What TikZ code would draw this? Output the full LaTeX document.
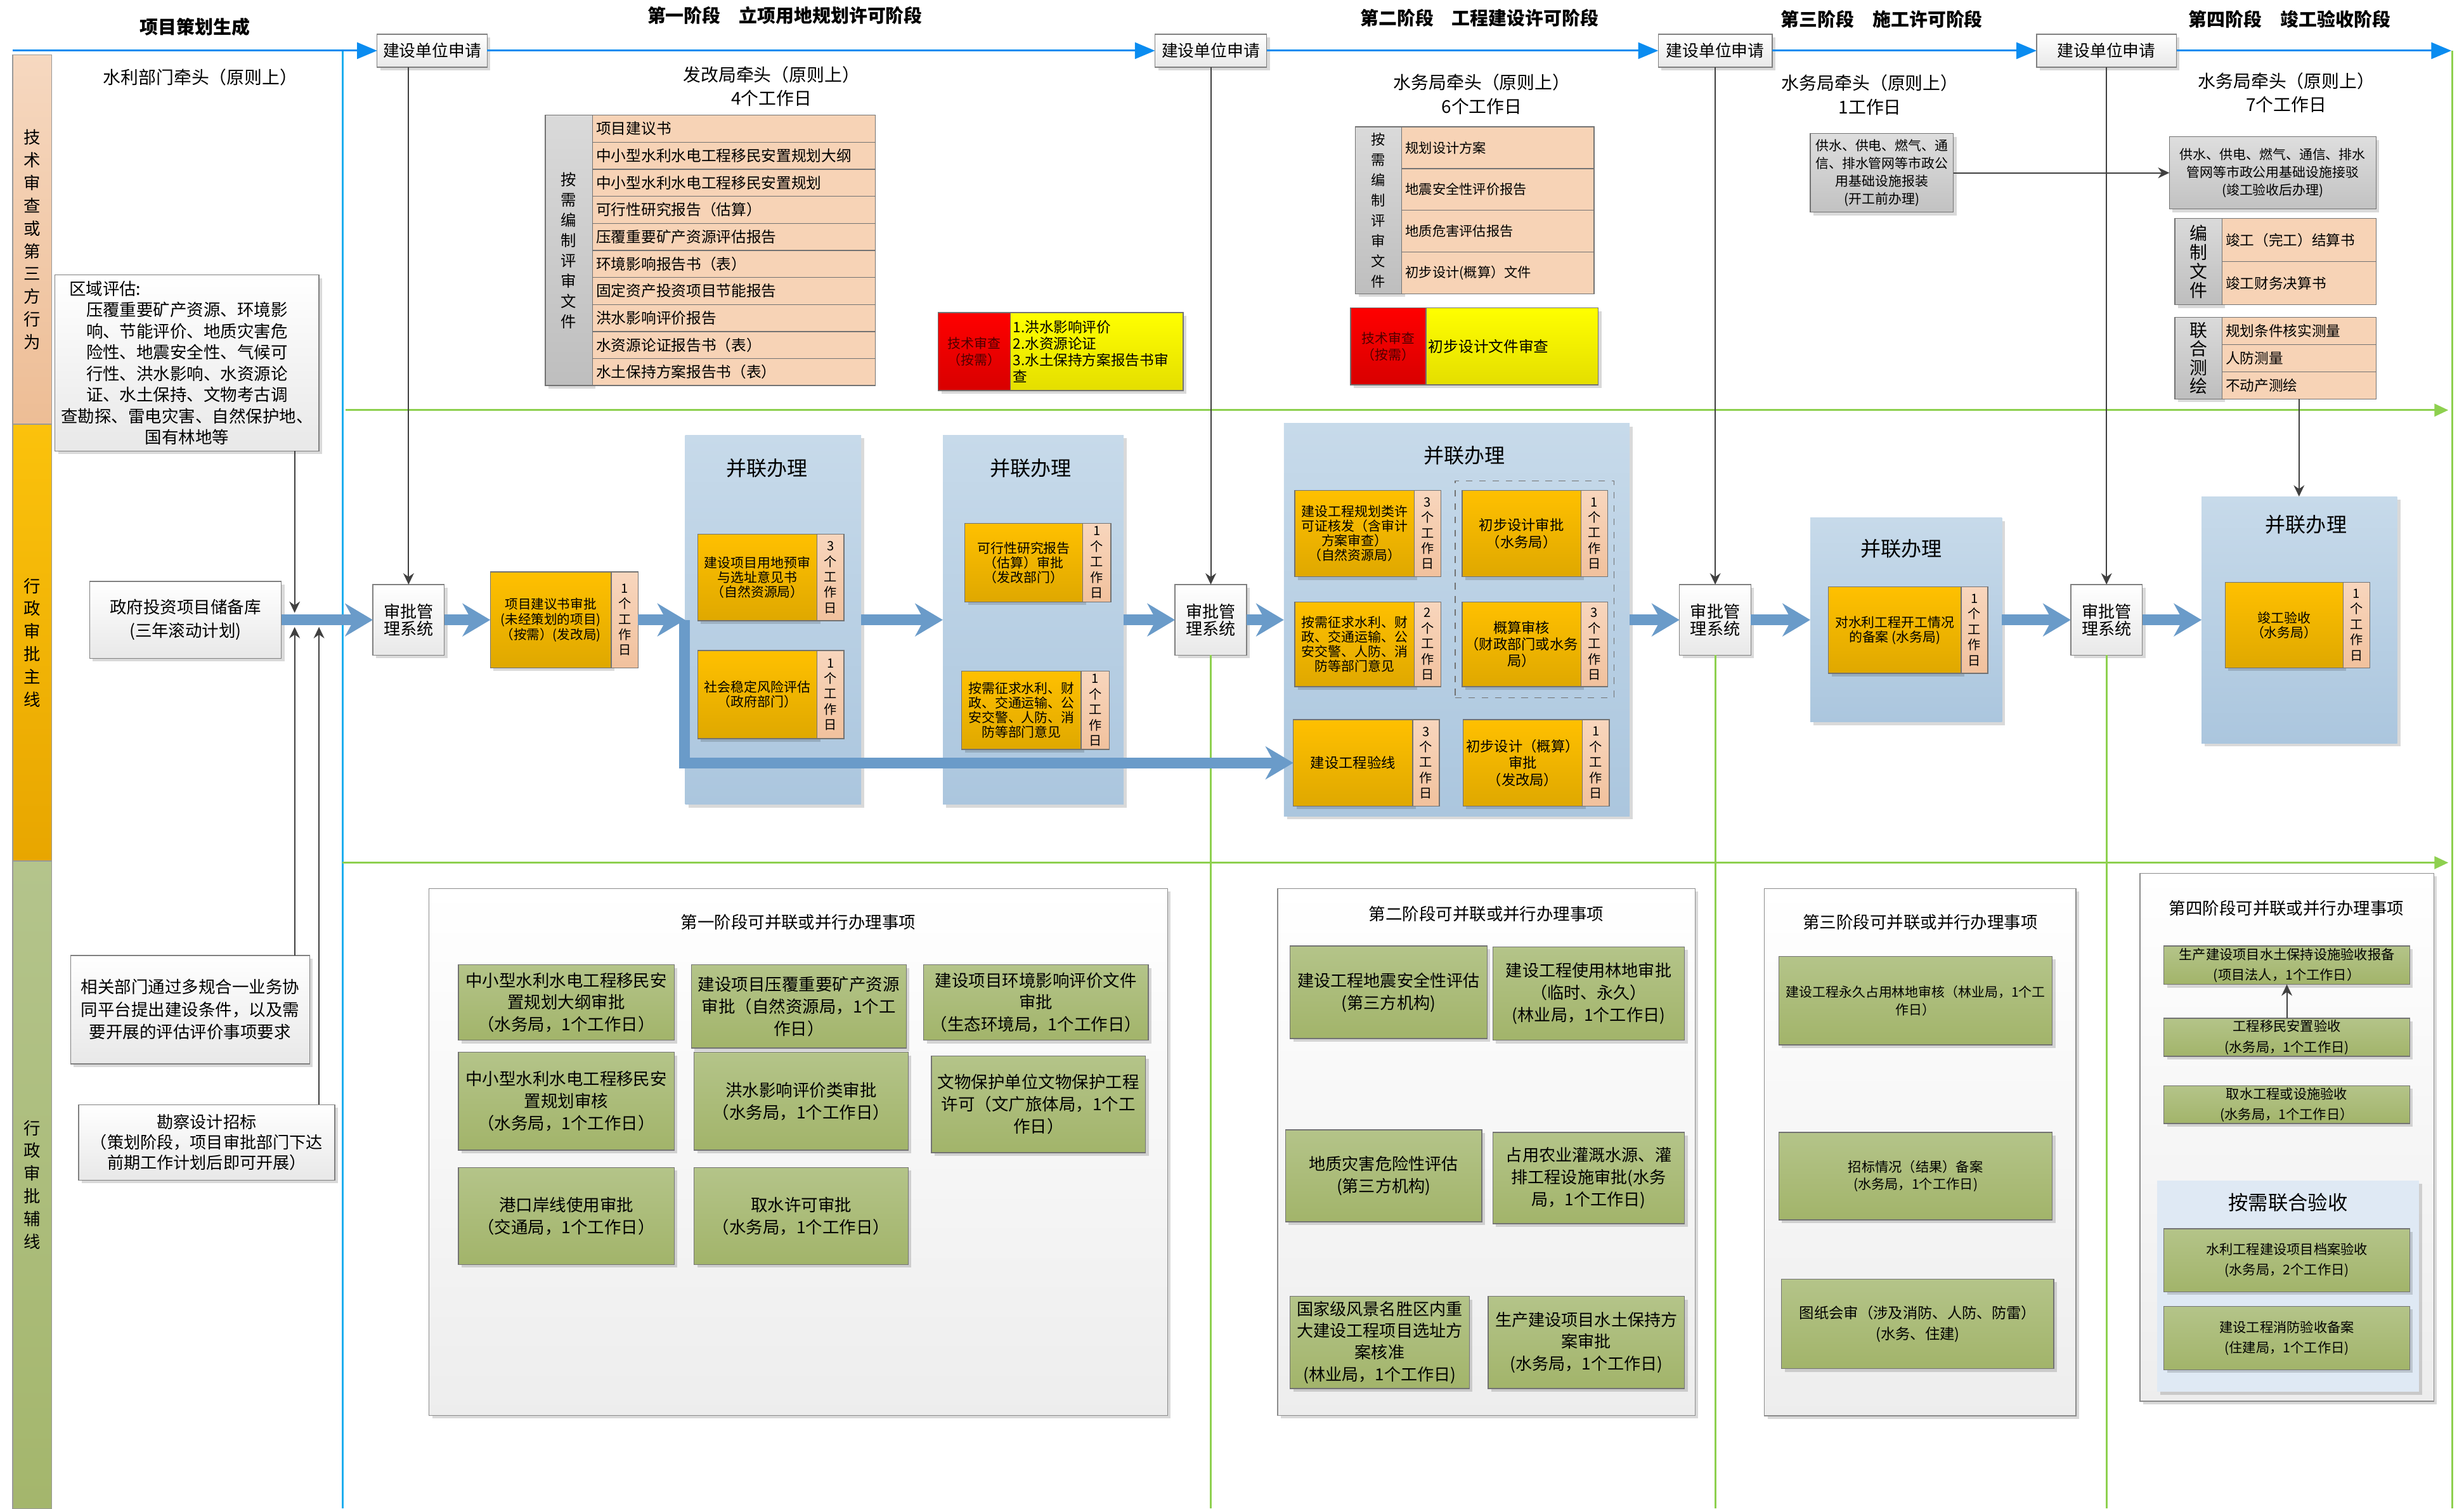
\documentclass[tikz,border=0pt]{standalone}
\usepackage{fontspec}
\setmainfont{Noto Sans CJK SC}
\usetikzlibrary{arrows.meta,shadows}
\definecolor{topblue}{HTML}{0A8CF0}
\definecolor{sideblue}{HTML}{1DAEEE}
\definecolor{flowblue}{HTML}{6A9BC9}
\definecolor{gline}{HTML}{8ED04F}
\definecolor{techtop}{HTML}{F6D8C0}
\definecolor{techbot}{HTML}{EDBD95}
\definecolor{maintop}{HTML}{FBC20C}
\definecolor{mainbot}{HTML}{E8A600}
\definecolor{auxtop}{HTML}{B4C48C}
\definecolor{auxbot}{HTML}{A4B66C}
\definecolor{orgtop}{HTML}{FFC000}
\definecolor{orgbot}{HTML}{DFA800}
\definecolor{striptop}{HTML}{F8D6BD}
\definecolor{stripbot}{HTML}{F1C19D}
\definecolor{peach}{HTML}{F7D3B6}
\definecolor{partop}{HTML}{C7DAEA}
\definecolor{parbot}{HTML}{ABC6DE}
\definecolor{labtop}{HTML}{DADADA}
\definecolor{labbot}{HTML}{BEBEBE}
\definecolor{olivetop}{HTML}{B4C489}
\definecolor{olivebot}{HTML}{A2B46A}
\definecolor{subblue}{HTML}{DFE9F4}
\definecolor{redtop}{HTML}{FF0000}
\definecolor{redbot}{HTML}{D80000}
\definecolor{yeltop}{HTML}{FFFF00}
\definecolor{yelbot}{HTML}{E4DE00}
\newcommand\fsz[2]{\fontsize{#1}{#2}\selectfont}
\begin{document}
\begin{tikzpicture}[x=0.25mm,y=-0.25mm,inner sep=0pt,outer sep=0pt,
wd/.style={minimum width=#1*0.25mm},
ht/.style={minimum height=#1*0.25mm},
shd/.style={drop shadow={shadow xshift=.5mm,shadow yshift=-.5mm,fill=black,opacity=.15}},
lane/.style={draw=black!40,align=center,wd=25,font=\fsz{7.6}{10.3}},
wbox/.style={draw=black!50,top color=white,bottom color=black!9,shd,align=center},
appbox/.style={wbox,ht=21,font=\fsz{7.4}{9}},
sysbox/.style={wbox,wd=45.5,ht=45,font=\fsz{7.5}{7.9}},
hdr/.style={font=\fsz{8.3}{10}\bfseries},
lead/.style={align=center,font=\fsz{8}{10.8}},
obox/.style={draw=black!55,top color=orgtop,bottom color=orgbot,align=center,shd,font=\fsz{6}{6.6}},
strip/.style={draw=black!55,top color=striptop,bottom color=stripbot,align=center,font=\fsz{5.8}{7}},
parpanel/.style={top color=partop,bottom color=parbot,shd},
partitle/.style={font=\fsz{9.2}{10}},
labcol/.style={draw=black!55,top color=labtop,bottom color=labbot,align=center,shd},
docrow/.style={draw=black!55,fill=peach,anchor=north west,align=left,inner xsep=0.6mm},
fgrow/.style={docrow,text width=43.8mm,ht=17.21,font=\fsz{6.8}{8}},
sjrow/.style={docrow,text width=29.4mm,ht=26.58,font=\fsz{6.1}{7}},
bzrow/.style={docrow,text width=23.3mm,font=\fsz{6.5}{7.5}},
redbox/.style={draw=black!55,top color=redtop,bottom color=redbot,align=center,text=red!30!black,shd,font=\fsz{6}{7.5}},
yelbox/.style={draw=black!55,top color=yeltop,bottom color=yelbot,align=left,inner xsep=0.4mm,shd},
supbox/.style={draw=black!55,top color=black!13,bottom color=black!24,align=center,shd,font=\fsz{6}{8}},
bpanel/.style={draw=black!45,top color=white,bottom color=black!7,shd},
btitle/.style={font=\fsz{7.6}{9}},
task/.style={draw=black!55,top color=olivetop,bottom color=olivebot,align=center,shd,font=\fsz{7.6}{10}},
subpanel/.style={fill=subblue,shd},
stageln/.style={draw=topblue,line width=0.9pt,-{Triangle[length=3.2mm,width=2.6mm]}},
sideln/.style={draw=sideblue,line width=0.9pt},
greenln/.style={draw=gline,line width=0.8pt},
link/.style={draw=black!75,line width=0.6pt,-{Stealth[length=1.8mm,width=1.7mm]}},
flow/.style={draw=flowblue,line width=1.75mm,-{Stealth[length=4.4mm,width=5.2mm,inset=1.4mm]}}]
\useasboundingbox (0,0) rectangle (1568,960);

\node[lane,ht=235,top color=techtop,bottom color=techbot] (lnT) at (20.5,152.5) {技\\术\\审\\查\\或\\第\\三\\方\\行\\为};
\node[lane,ht=278,top color=maintop,bottom color=mainbot] (lnM) at (20.5,409) {行\\政\\审\\批\\主\\线};
\node[lane,ht=412,top color=auxtop,bottom color=auxbot] (lnA) at (20.5,754) {行\\政\\审\\批\\辅\\线};

\node[hdr] (hd0) at (124,17) {项目策划生成};
\node[hdr] (hd1) at (499.5,10) {第一阶段　立项用地规划许可阶段};
\node[hdr] (hd2) at (941.5,11.5) {第二阶段　工程建设许可阶段};
\node[hdr] (hd3) at (1197.5,12.3) {第三阶段　施工许可阶段};
\node[hdr] (hd4) at (1457,12.3) {第四阶段　竣工验收阶段};

\node[appbox,wd=70] (app1) at (275,32.25) {建设单位申请};
\node[appbox,wd=71] (app2) at (770.5,32.25) {建设单位申请};
\node[appbox,wd=72.5] (app3) at (1091.5,32.25) {建设单位申请};
\node[appbox,wd=89] (app4) at (1340.5,32.25) {建设单位申请};

\node[lead] (ld0) at (127.5,49) {水利部门牵头（原则上）};
\node[lead] (ld1) at (491,55) {发改局牵头（原则上）\\4个工作日};
\node[lead] (ld2) at (943,60) {水务局牵头（原则上）\\6个工作日};
\node[lead] (ld3) at (1190,60.5) {水务局牵头（原则上）\\1工作日};
\node[lead] (ld4) at (1455,59) {水务局牵头（原则上）\\7个工作日};

\node[wbox,wd=168,ht=112,font=\fsz{7.6}{9.6}] (reg) at (119,231) {\makebox[37.5mm][l]{区域评估:}\\压覆重要矿产资源、环境影\\响、节能评价、地质灾害危\\险性、地震安全性、气候可\\行性、洪水影响、水资源论\\证、水土保持、文物考古调\\查勘探、雷电灾害、自然保护地、\\国有林地等};
\node[wbox,wd=122,ht=49,font=\fsz{7.6}{10.6}] (gov) at (118,394.5) {政府投资项目储备库\\(三年滚动计划)};
\node[wbox,wd=152,ht=69,font=\fsz{7.6}{10.2}] (rel) at (121,642.5) {相关部门通过多规合一业务协\\同平台提出建设条件，以及需\\要开展的评估评价事项要求};
\node[wbox,wd=163,ht=48,font=\fsz{7.5}{9.2}] (srv) at (131.5,727) {勘察设计招标\\（策划阶段，项目审批部门下达\\前期工作计划后即可开展）};

\node[labcol,wd=30,ht=172.1,font=\fsz{7}{9.2}] (fgl) at (362,159.35) {按\\需\\编\\制\\评\\审\\文\\件};
\node[fgrow] (fg1) at (377,73.3) {项目建议书};
\node[fgrow] (fg2) at (377,90.51) {中小型水利水电工程移民安置规划大纲};
\node[fgrow] (fg3) at (377,107.72) {中小型水利水电工程移民安置规划};
\node[fgrow] (fg4) at (377,124.93) {可行性研究报告（估算）};
\node[fgrow] (fg5) at (377,142.14) {压覆重要矿产资源评估报告};
\node[fgrow] (fg6) at (377,159.35) {环境影响报告书（表）};
\node[fgrow] (fg7) at (377,176.56) {固定资产投资项目节能报告};
\node[fgrow] (fg8) at (377,193.77) {洪水影响评价报告};
\node[fgrow] (fg9) at (377,210.98) {水资源论证报告书（表）};
\node[fgrow] (fg10) at (377,228.19) {水土保持方案报告书（表）};

\node[redbox,wd=46,ht=49.6] (tr1) at (620,223.8) {技术审查\\（按需）};
\node[yelbox,wd=110,ht=49.6,text width=26.7mm,font=\fsz{6.5}{7.5}] (ye1) at (698,223.8) {1.洪水影响评价\\2.水资源论证\\3.水土保持方案报告书审\\查};

\node[labcol,wd=29.5,ht=106.3,font=\fsz{6.4}{9.2}] (sjl) at (877.25,133.85) {按\\需\\编\\制\\评\\审\\文\\件};
\node[sjrow] (sj1) at (892,80.7) {规划设计方案};
\node[sjrow] (sj2) at (892,107.28) {地震安全性评价报告};
\node[sjrow] (sj3) at (892,133.86) {地质危害评估报告};
\node[sjrow] (sj4) at (892,160.44) {初步设计(概算）文件};

\node[redbox,wd=48,ht=49] (tr2) at (883.5,220.5) {技术审查\\（按需）};
\node[yelbox,wd=109.5,ht=49,text width=26.6mm,font=\fsz{6.8}{8}] (ye2) at (962.25,220.5) {初步设计文件审查};

\node[supbox,wd=91,ht=50] (sup3) at (1197.5,110) {供水、供电、燃气、通\\信、排水管网等市政公\\用基础设施报装\\(开工前办理)};
\node[supbox,wd=131.5,ht=46] (sup4) at (1446.25,110) {供水、供电、燃气、通信、排水\\管网等市政公用基础设施接驳\\(竣工验收后办理)};

\node[labcol,wd=30,ht=55,font=\fsz{8}{8.6}] (bzl) at (1399,166.5) {编\\制\\文\\件};
\node[bzrow,ht=27.5] (bz1) at (1414,139) {竣工（完工）结算书};
\node[bzrow,ht=27.5] (bz2) at (1414,166.5) {竣工财务决算书};
\node[labcol,wd=30,ht=52,font=\fsz{8}{8.4}] (chl) at (1399,228) {联\\合\\测\\绘};
\node[bzrow,ht=17.33] (ch1) at (1414,202) {规划条件核实测量};
\node[bzrow,ht=17.33] (ch2) at (1414,219.33) {人防测量};
\node[bzrow,ht=17.33] (ch3) at (1414,236.67) {不动产测绘};

\node[sysbox] (sys1) at (260,394.5) {审批管\\理系统};
\node[sysbox] (sys2) at (770.5,394.5) {审批管\\理系统};
\node[sysbox] (sys3) at (1091.5,394.5) {审批管\\理系统};
\node[sysbox] (sys4) at (1340.5,394.5) {审批管\\理系统};

\node[obox,wd=77,ht=61,font=\fsz{5.9}{7}] (xmjy) at (350.5,394.5) {项目建议书审批\\(未经策划的项目)\\（按需）(发改局)};
\node[strip,wd=17,ht=61] (xmjyd) at (397.5,394.5) {1\\个\\工\\作\\日};

\node[parpanel,wd=112,ht=235] (par1) at (492,394.5) {};
\node[partitle] (pt1) at (488,298) {并联办理};
\node[obox,wd=76,ht=55] (ydys) at (482,367.5) {建设项目用地预审\\与选址意见书\\（自然资源局）};
\node[strip,wd=17,ht=55] (ydysd) at (528.5,367.5) {3\\个\\工\\作\\日};
\node[obox,wd=76,ht=56] (shwd) at (482,442) {社会稳定风险评估\\（政府部门）};
\node[strip,wd=17,ht=56] (shwdd) at (528.5,442) {1\\个\\工\\作\\日};

\node[parpanel,wd=115,ht=235] (par2) at (657.5,394.5) {};
\node[partitle] (pt2) at (656,298) {并联办理};
\node[obox,wd=75,ht=50] (kyb) at (651.5,358) {可行性研究报告\\（估算）审批\\（发改部门）};
\node[strip,wd=18,ht=50] (kybd) at (698,358) {1\\个\\工\\作\\日};
\node[obox,wd=76,ht=50] (zqa) at (650,452) {按需征求水利、财\\政、交通运输、公\\安交警、人防、消\\防等部门意见};
\node[strip,wd=18,ht=50] (zqad) at (697,452) {1\\个\\工\\作\\日};

\node[parpanel,wd=220,ht=250] (par3) at (927,394.5) {};
\node[partitle] (pt3) at (932,290) {并联办理};
\node[obox,wd=76,ht=55] (ghxk) at (862,339.5) {建设工程规划类许\\可证核发（含审计\\方案审查）\\（自然资源局）};
\node[strip,wd=17,ht=55] (ghxkd) at (908.5,339.5) {3\\个\\工\\作\\日};
\node[obox,wd=76,ht=54] (zqb) at (862,410) {按需征求水利、财\\政、交通运输、公\\安交警、人防、消\\防等部门意见};
\node[strip,wd=17,ht=54] (zqbd) at (908.5,410) {2\\个\\工\\作\\日};
\node[draw=black!55,dashed,wd=101,ht=138] (grp) at (976.5,375) {};
\node[obox,wd=75.5,ht=55,font=\fsz{6.4}{7.6}] (cbsp) at (968.25,339.5) {初步设计审批\\（水务局）};
\node[strip,wd=17,ht=55] (cbspd) at (1014.5,339.5) {1\\个\\工\\作\\日};
\node[obox,wd=75.5,ht=54,font=\fsz{6.4}{7.6}] (gssh) at (968.25,410) {概算审核\\（财政部门或水务\\局）};
\node[strip,wd=17,ht=54] (gsshd) at (1014.5,410) {3\\个\\工\\作\\日};
\node[obox,wd=76,ht=55,font=\fsz{6.4}{7.6}] (yx) at (861,485.5) {建设工程验线};
\node[strip,wd=17,ht=55] (yxd) at (907.5,485.5) {3\\个\\工\\作\\日};
\node[obox,wd=76,ht=55,font=\fsz{6.4}{7.6}] (cbgs) at (969,485.5) {初步设计（概算）\\审批\\（发改局）};
\node[strip,wd=17,ht=55] (cbgsd) at (1015.5,485.5) {1\\个\\工\\作\\日};

\node[parpanel,wd=122,ht=130] (par4) at (1213,394.5) {};
\node[partitle] (pt4) at (1210,349) {并联办理};
\node[obox,wd=84.5,ht=55] (kgba) at (1205.75,401) {对水利工程开工情况\\的备案 (水务局)};
\node[strip,wd=17,ht=55] (kgbad) at (1256.5,401) {1\\个\\工\\作\\日};

\node[parpanel,wd=124.5,ht=157] (par5) at (1463.25,394.5) {};
\node[partitle] (pt5) at (1467.5,334) {并联办理};
\node[obox,wd=75,ht=54.5] (jgys) at (1453.5,397.75) {竣工验收\\（水务局）};
\node[strip,wd=17,ht=54.5] (jgysd) at (1499.5,397.75) {1\\个\\工\\作\\日};

\node[bpanel,wd=470,ht=335.2] (bp1) at (508,733.1) {};
\node[btitle] (bt1) at (508,587) {第一阶段可并联或并行办理事项};
\node[task,wd=137.3,ht=48] (a1) at (360.35,638) {中小型水利水电工程移民安\\置规划大纲审批\\（水务局，1个工作日）};
\node[task,wd=136.7,ht=53] (a2) at (508.35,640.5) {建设项目压覆重要矿产资源\\审批（自然资源局，1个工\\作日）};
\node[task,wd=142.9,ht=48] (a3) at (659.25,638) {建设项目环境影响评价文件\\审批\\（生态环境局，1个工作日）};
\node[task,wd=137.3,ht=62.3] (a4) at (360.35,700.85) {中小型水利水电工程移民安\\置规划审核\\（水务局，1个工作日）};
\node[task,wd=136.3,ht=62.3] (a5) at (509.85,700.85) {洪水影响评价类审批\\（水务局，1个工作日）};
\node[task,wd=136.3,ht=61.5] (a6) at (660.85,702.75) {文物保护单位文物保护工程\\许可（文广旅体局，1个工\\作日）};
\node[task,wd=137.3,ht=61.7] (a7) at (360.35,773.85) {港口岸线使用审批\\（交通局，1个工作日）};
\node[task,wd=136.3,ht=61.7] (a8) at (509.85,773.85) {取水许可审批\\（水务局，1个工作日）};

\node[bpanel,wd=265.7,ht=335.2] (bp2) at (945.85,733.1) {};
\node[btitle] (bt2) at (945.8,581.8) {第二阶段可并联或并行办理事项};
\node[task,wd=125.3,ht=59,font=\fsz{7.5}{10}] (b1) at (883.65,631.5) {建设工程地震安全性评估\\(第三方机构)};
\node[task,wd=122,ht=59.5,font=\fsz{7.5}{10}] (b2) at (1011,632.25) {建设工程使用林地审批\\（临时、永久）\\(林业局，1个工作日)};
\node[task,wd=125,ht=58.6,font=\fsz{7.5}{10}] (b3) at (880.5,748.3) {地质灾害危险性评估\\(第三方机构)};
\node[task,wd=122,ht=58.2,font=\fsz{7.5}{10}] (b4) at (1011,749.7) {占用农业灌溉水源、灌\\排工程设施审批(水务\\局，1个工作日)};
\node[task,wd=114,ht=58.7,font=\fsz{7.5}{9.8}] (b5) at (878,854.35) {国家级风景名胜区内重\\大建设工程项目选址方\\案核准\\(林业局，1个工作日)};
\node[task,wd=125,ht=58.7,font=\fsz{7.5}{10}] (b6) at (1009.5,854.35) {生产建设项目水土保持方\\案审批\\(水务局，1个工作日)};

\node[bpanel,wd=198.2,ht=335.5] (bp3) at (1221.9,733.25) {};
\node[btitle] (bt3) at (1222,587) {第三阶段可并联或并行办理事项};
\node[task,wd=174,ht=56.4,font=\fsz{6}{8}] (c1) at (1219,636.8) {建设工程永久占用林地审核（林业局，1个工\\作日）};
\node[task,wd=174,ht=55.6,font=\fsz{6.1}{8}] (c2) at (1219,748.5) {招标情况（结果）备案\\(水务局，1个工作日)};
\node[task,wd=173.3,ht=57,font=\fsz{6.7}{9.5}] (c3) at (1220.35,842.5) {图纸会审（涉及消防、人防、防雷）\\(水务、住建)};

\node[bpanel,wd=187,ht=335.9] (bp4) at (1455.3,723.75) {};
\node[btitle] (bt4) at (1455,578) {第四阶段可并联或并行办理事项};
\node[task,wd=156.5,ht=24.5,font=\fsz{6.1}{9.2}] (d1) at (1455.25,614.25) {生产建设项目水土保持设施验收报备\\(项目法人，1个工作日）};
\node[task,wd=156.5,ht=24.3,font=\fsz{6.1}{9.2}] (d2) at (1455.25,660.15) {工程移民安置验收\\(水务局，1个工作日)};
\node[task,wd=156.5,ht=24,font=\fsz{6.1}{9.2}] (d3) at (1455.25,703) {取水工程或设施验收\\(水务局，1个工作日）};
\node[subpanel,wd=166.7,ht=134.3] (sub) at (1456,818.65) {};
\node[partitle,font=\fsz{9}{10}] (st) at (1456,765.4) {按需联合验收};
\node[task,wd=156.5,ht=40,font=\fsz{6.1}{9.2}] (d4) at (1455.25,802) {水利工程建设项目档案验收\\(水务局，2个工作日)};
\node[task,wd=156.5,ht=40.3,font=\fsz{6.1}{9.2}] (d5) at (1455.25,851.55) {建设工程消防验收备案\\(住建局，1个工作日)};

\coordinate (tl0) at (8,32.25);
\coordinate (tl5) at (1560,32.25);
\coordinate (bv0) at (218,32.25);
\coordinate (bv1) at (218,960);
\coordinate (g1a) at (220,261);
\coordinate (g1b) at (1558,261);
\coordinate (g2a) at (218,549);
\coordinate (g2b) at (1558,549);
\coordinate (gr0) at (1560.5,32.25);
\coordinate (gr1) at (1560.5,960);
\coordinate (gb2) at (770.5,960);
\coordinate (gb3) at (1091.5,960);
\coordinate (gb4) at (1340.5,960);
\coordinate (ta) at (187.5,390);
\coordinate (tb) at (187.5,399);
\coordinate (tc) at (203,399);
\coordinate (split) at (435.5,394.5);

\draw[sideln] (bv0) -- (bv1);
\draw[greenln,-{Triangle[length=2.2mm,width=2mm]}] (g1a) -- (g1b);
\draw[greenln,-{Triangle[length=2.2mm,width=2mm]}] (g2a) -- (g2b);
\draw[greenln] (gr0) -- (gr1);
\draw[greenln] (sys2.south) -- (gb2);
\draw[greenln] (sys3.south) -- (gb3);
\draw[greenln] (sys4.south) -- (gb4);

\draw[stageln] (tl0) -- (app1.west);
\draw[stageln] (app1.east) -- (app2.west);
\draw[stageln] (app2.east) -- (app3.west);
\draw[stageln] (app3.east) -- (app4.west);
\draw[stageln] (app4.east) -- (tl5);

\draw[link] (sys1.north |- app1.south) -- (sys1.north);
\draw[link] (app2.south) -- (sys2.north);
\draw[link] (app3.south) -- (sys3.north);
\draw[link] (app4.south) -- (sys4.north);
\draw[link] (reg.south -| ta) -- (ta);
\draw[link] (rel.north -| tb) -- (tb);
\draw[link] (srv.north -| tc) -- (tc);
\draw[link] (sup3.east) -- (sup4.west);
\draw[link] (ch3.south) -- (ch3.south |- par5.north);
\draw[link] (d2.north) -- (d1.south);

\draw[flow] (gov.east) -- (sys1.west);
\draw[flow] (sys1.east) -- (xmjy.west);
\draw[flow] (xmjyd.east) -- (par1.west);
\draw[flow] (split) |- (yx.west);
\draw[flow] (par1.east) -- (par2.west);
\draw[flow] (par2.east) -- (sys2.west);
\draw[flow] (sys2.east) -- (par3.west);
\draw[flow] (par3.east) -- (sys3.west);
\draw[flow] (sys3.east) -- (par4.west);
\draw[flow] (par4.east) -- (sys4.west);
\draw[flow] (sys4.east) -- (par5.west);
\end{tikzpicture}
\end{document}
